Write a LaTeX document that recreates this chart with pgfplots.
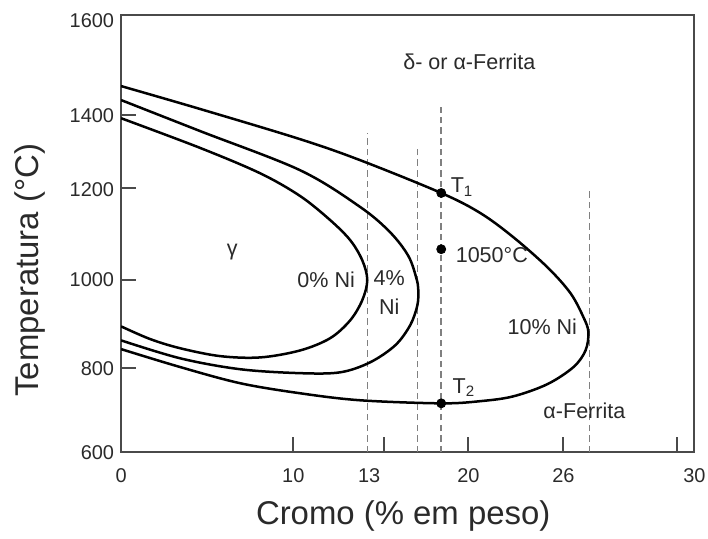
\documentclass[border=0pt]{standalone}
\usepackage{fontspec}
\setmainfont{Liberation Sans}
\usepackage{pgfplots}
\pgfplotsset{compat=1.18}
\definecolor{framegray}{HTML}{4A4A4A}
\definecolor{dashgray}{HTML}{808080}
\definecolor{txt}{HTML}{2A2A2A}

\begin{document}
\begin{tikzpicture}
\begin{axis}[
  scale only axis, width=286.5bp, height=218.5bp,
  xmin=0, xmax=30, ymin=600, ymax=1600,
  axis line style={framegray, line width=1bp},
  tick style={framegray, line width=1bp},
  tick align=inside, tick pos=left,
  major tick length=7.5bp,
  xtick={9.01,13.77,18.17,23.14,29.11}, xticklabels={,,,,},
  ytick={792,994,1204,1371}, yticklabels={,,,},
  extra x ticks={0,9.01,12.98,18.17,23.14,30},
  extra x tick labels={0,10,13,20,26,30},
  extra y ticks={600,792,994,1200,1369,1586},
  extra y tick labels={600,800,1000,1200,1400,1600},
  extra tick style={major tick length=0pt},
  /pgf/number format/assume math mode=true,
  ticklabel style={font=\fontsize{10}{12}\selectfont, text=txt},
  xticklabel style={yshift=-4.5bp},
  xlabel={Cromo (\% em peso)}, ylabel={Temperatura (°C)},
  label style={font=\fontsize{16.5}{19}\selectfont, text=txt},
  xlabel style={at={(axis description cs:0.492,-0.1465)}, anchor=center},
  ylabel style={at={(axis description cs:-0.1588,0.4165)}, anchor=center},
  clip mode=individual,
]
% dashed composition lines
\addplot[dashgray, line width=0.75bp, dash pattern=on 3.3bp off 2bp] coordinates {(12.88,600) (12.88,1330)};
\addplot[dashgray, line width=0.75bp, dash pattern=on 3.3bp off 2bp] coordinates {(15.50,600) (15.50,1302)};
\addplot[dashgray, line width=0.75bp, dash pattern=on 3.3bp off 2bp] coordinates {(16.75,600) (16.75,1389)};
\addplot[dashgray, line width=0.75bp, dash pattern=on 3.3bp off 2bp] coordinates {(24.50,600) (24.50,1200)};

% 0% Ni
\addplot[black, line width=1.25bp, smooth, tension=0.55] coordinates {
  (0,1364) (4.14,1296) (7.28,1238) (9.37,1186) (10.94,1131) (11.99,1085)
  (12.62,1039) (12.88,994) (12.62,948) (11.99,902) (10.94,861) (9.37,833)
  (7.28,817) (5.18,820) (3.09,838) (1.52,859) (0,888)};
% 4% Ni
\addplot[black, line width=1.25bp, smooth, tension=0.55] coordinates {
  (0,1405.5) (4.14,1334.5) (9.37,1245) (12.51,1161) (14.08,1103) (15.03,1049)
  (15.45,998) (15.55,971) (15.50,936) (15.13,891) (14.35,845) (13.04,806)
  (11.47,783) (9.37,781) (6.23,790) (3.09,815) (0,856)};
% 10% Ni
\addplot[black, line width=1.25bp, smooth, tension=0.55] coordinates {
  (0,1437.5) (4.14,1385) (9.37,1316) (12.51,1268) (16.75,1193) (18.80,1147)
  (20.52,1092) (22.31,1023) (23.51,964) (24.19,909) (24.45,875) (24.30,833)
  (23.67,795) (22.31,756) (20.52,728) (18.80,717) (16.75,712) (12.51,719)
  (9.37,735) (6.23,758) (3.09,795) (0,836)};

% points T1, 1050 C, T2
\addplot[only marks, mark=*, mark size=2.25bp, black] coordinates {(16.75,1193) (16.75,1064.5) (16.75,712)};

\begin{scope}[every node/.style={text=txt, font=\fontsize{10.8}{13}\selectfont}]
\node at (axis cs:18.22,1492) {δ- or α-Ferrita};
\node[anchor=base west, inner sep=0] at (axis cs:17.23,1193) {T\textsubscript{1}};
\node[anchor=base west, inner sep=0] at (axis cs:17.49,1035) {1050°C};
\node[anchor=base west, inner sep=0] at (axis cs:17.33,735) {T\textsubscript{2}};
\node at (axis cs:5.81,1058) {γ};
\node at (axis cs:10.73,994) {0\% Ni};
\node at (axis cs:14.03,998) {4\%};
\node at (axis cs:14.03,932) {Ni};
\node at (axis cs:22.04,886) {10\% Ni};
\node at (axis cs:24.24,696) {α-Ferrita};
\end{scope}
\end{axis}
\pgfresetboundingbox
\path[use as bounding box] ([shift={(-60.5bp,-43bp)}]current axis.south west) rectangle ([shift={(6.75bp,7.5bp)}]current axis.north east);
\end{tikzpicture}
\end{document}
